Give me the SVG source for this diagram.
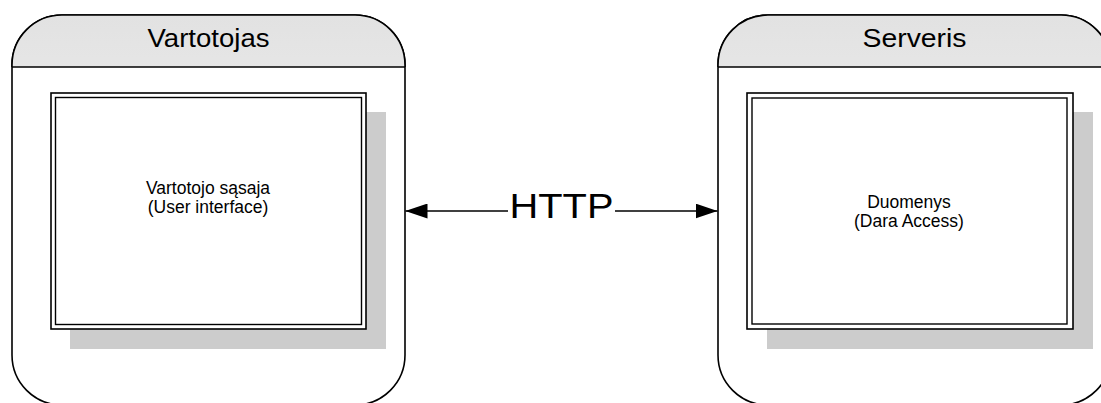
<svg xmlns="http://www.w3.org/2000/svg" width="1101" height="403" viewBox="0 0 1101 403">
<style>
.frame{fill:#ffffff;stroke:#000;stroke-width:1.6}
.sep{stroke:#000;stroke-width:1.6}
.shadow{fill:#cccccc}
.box{fill:#ffffff;stroke:#000;stroke-width:1.6}
.inner{fill:none;stroke:#000;stroke-width:1.4}
.title{font-family:"Liberation Sans",Arial,sans-serif;font-size:26px;fill:#000;text-anchor:middle}
.label{font-family:"Liberation Sans",Arial,sans-serif;font-size:17.5px;fill:#000;text-anchor:middle}
.conn{stroke:#000;stroke-width:1.4;fill:none}
.http{font-family:"Liberation Sans",Arial,sans-serif;font-size:35px;fill:#000;text-anchor:middle}
</style>
<defs>
<linearGradient id="hdr" x1="0" y1="0" x2="0" y2="1">
<stop offset="0" stop-color="#e2e2e2"/>
<stop offset="1" stop-color="#fdfdfd"/>
</linearGradient>
<clipPath id="hdrL"><rect x="0" y="0" width="1101" height="67"/></clipPath>
<marker id="arr" viewBox="0 0 22 15" refX="22" refY="7.5" markerWidth="22" markerHeight="15" markerUnits="userSpaceOnUse" orient="auto-start-reverse">
<path d="M0,0 L22,7.5 L0,15 Z" fill="#000"/>
</marker>
</defs>
<rect width="1101" height="403" fill="#ffffff"/>

<g id="vartotojas">
<rect class="frame" x="12" y="15" width="393" height="390" rx="50" ry="50"/>
<rect x="12" y="15" width="393" height="390" rx="50" ry="50" fill="url(#hdr)" clip-path="url(#hdrL)" stroke="#000" stroke-width="1.6"/>
<line class="sep" x1="12" y1="67" x2="405" y2="67"/>
<text class="title" x="208.5" y="47" textLength="122" lengthAdjust="spacingAndGlyphs">Vartotojas</text>
</g>

<g id="vartotojo-sasaja">
<rect class="shadow" x="70" y="112" width="316" height="237"/>
<rect class="box" x="51" y="93" width="315" height="236"/>
<rect class="inner" x="55.5" y="97.5" width="306" height="227"/>
<text class="label" x="208" y="194">Vartotojo sąsaja</text>
<text class="label" x="208" y="213">(User interface)</text>
</g>

<g id="serveris">
<rect class="frame" x="718" y="15" width="393" height="390" rx="50" ry="50"/>
<rect x="718" y="15" width="393" height="390" rx="50" ry="50" fill="url(#hdr)" clip-path="url(#hdrL)" stroke="#000" stroke-width="1.6"/>
<line class="sep" x1="718" y1="67" x2="1111" y2="67"/>
<text class="title" x="914.5" y="47" textLength="104" lengthAdjust="spacingAndGlyphs">Serveris</text>
</g>

<g id="duomenys">
<rect class="shadow" x="767" y="112" width="326" height="237"/>
<rect class="box" x="747" y="93" width="326" height="236"/>
<rect class="inner" x="752" y="98" width="315" height="226"/>
<text class="label" x="909" y="208">Duomenys</text>
<text class="label" x="909" y="227">(Dara Access)</text>
</g>

<g id="connectors">
<line class="conn" x1="508" y1="211" x2="405.5" y2="211" marker-end="url(#arr)"/>
<line class="conn" x1="615" y1="211" x2="717.5" y2="211" marker-end="url(#arr)"/>
<text class="http" x="561.5" y="218" textLength="104" lengthAdjust="spacingAndGlyphs">HTTP</text>
</g>
</svg>
